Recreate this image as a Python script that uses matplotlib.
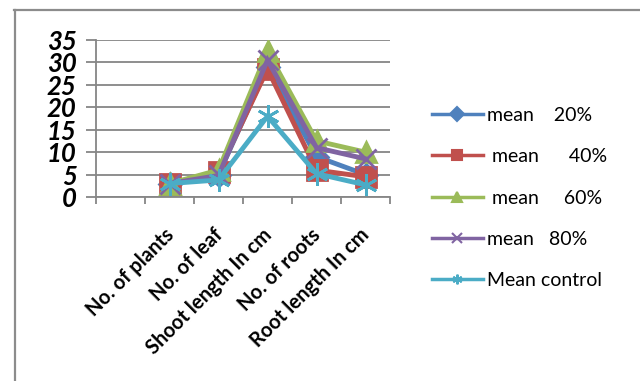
import matplotlib.pyplot as plt
import matplotlib.transforms as mtransforms
from matplotlib.lines import Line2D

categories = ['', 'No. of plants', 'No. of leaf', 'Shoot length In cm',
              'No. of roots', 'Root length In cm']

mean_20 = [None, 3, 5, 29, 9, 5]
mean_40 = [None, 3, 5.5, 28.5, 6, 4.5]
mean_60 = [None, 3, 6, 32.5, 12.5, 10]
mean_80 = [None, 3, 4.8, 30.5, 11, 8.5]
mean_control = [None, 3, 3.8, 18, 5.2, 2.7]

labels = ['mean    20%', ' mean      40%', ' mean     60%', 'mean   80%', 'Mean control']
colors = ['#4F81BD', '#C0504D', '#9BBB59', '#8064A2', '#4BACC6']
markers = ['D', 's', '^', 'x', (6, 2, 0)]
sizes = [11, 14, 15, 14, 16]

plt.rcParams['font.family'] = ['Lato', 'DejaVu Sans']

fig = plt.figure(figsize=(6.4, 3.81), dpi=100)
ax = fig.add_axes([96 / 640, 1 - 197 / 381, 294 / 640, 157 / 381])

x = list(range(len(categories)))
series = [mean_20, mean_40, mean_60, mean_80, mean_control]
handles = []
for vals, lab, c, m, s in zip(series, labels, colors, markers, sizes):
    xs = [i + 0.5 for i, v in zip(x, vals) if v is not None]
    ys = [v for v in vals if v is not None]
    ax.plot(xs, ys, color=c, lw=3.5, marker=m, ms=s, mec=c, mfc=c, mew=2,
            solid_joinstyle='miter')
    handles.append(Line2D([], [], color=c, lw=2.5, marker=m, ms=7, mec=c, mfc=c,
                          mew=1.5, label=lab))

ax.set_xlim(0, len(categories))
ax.set_ylim(0, 35)
ax.set_yticks(range(0, 36, 5))
ax.set_xticks(range(len(categories) + 1))
ax.set_xticklabels([])
ax.set_xticks([i + 0.5 for i in x], minor=True)
ax.set_xticklabels(categories, minor=True, rotation=45, ha='right',
                   rotation_mode='anchor', fontsize=14.5, fontweight='bold')
ax.tick_params(axis='x', which='minor', length=0, pad=20)
ax.tick_params(axis='x', which='major', length=5, color='#868686', width=1.3)
ax.tick_params(axis='y', length=7, color='#868686', width=1.3, pad=7)
# nudge the slanted category labels a little to the left
shift = mtransforms.ScaledTranslation(-6 / 100, 0, fig.dpi_scale_trans)
for t in ax.get_xticklabels(minor=True):
    t.set_transform(t.get_transform() + shift)
for t in ax.get_yticklabels():
    t.set_fontsize(18.5)
    t.set_fontweight('bold')
    t.set_fontstyle('italic')

ax.grid(axis='y', color='#868686', lw=1.3)
ax.set_axisbelow(True)
for side in ['top', 'right']:
    ax.spines[side].set_visible(False)
for side in ['left', 'bottom']:
    ax.spines[side].set_color('#868686')
    ax.spines[side].set_linewidth(1.3)

fig.legend(handles=handles, loc='center left', bbox_to_anchor=(432 / 640, 1 - 198 / 381),
           frameon=False, fontsize=14, labelspacing=1.25, handlelength=2.6,
           handletextpad=0.25, borderpad=0, borderaxespad=0)

# outer frame, top and left edges only
fig.add_artist(Line2D([14 / 640, 1], [1 - 10 / 381, 1 - 10 / 381], color='#8c8c8c', lw=1.6))
fig.add_artist(Line2D([15 / 640, 15 / 640], [0, 1 - 10 / 381], color='#8c8c8c', lw=1.6))

fig.savefig('out.png', dpi=100)
